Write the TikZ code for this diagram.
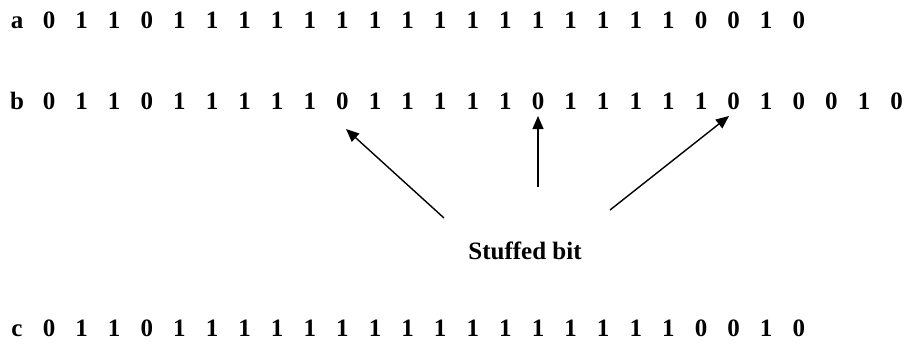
\documentclass[tikz,border=0pt]{standalone}
\usepackage{fontspec}
\setmainfont{Liberation Serif}
\usetikzlibrary{arrows.meta}
\begin{document}
\begin{tikzpicture}[x=1pt,y=-1pt,
  bit/.style={inner sep=0pt,anchor=base,font=\fontsize{25}{30}\selectfont\bfseries},
  arr/.style={line width=1.4pt,-{Triangle[length=13pt,width=11pt]}}]
\useasboundingbox (0,0) rectangle (909,345);
\node[bit] (la) at (17,29) {a};
\node[bit] (lb) at (17,109) {b};
\node[bit] (lc) at (17,336) {c};
\foreach \v [count=\i from 0] in {0,1,1,0,1,1,1,1,1,1,1,1,1,1,1,1,1,1,1,1,0,0,1,0}
  \node[bit] (a\i) at ({49+32.6*\i},29) {\v};
\foreach \v [count=\i from 0] in {0,1,1,0,1,1,1,1,1,0,1,1,1,1,1,0,1,1,1,1,1,0,1,0,0,1,0}
  \node[bit] (b\i) at ({49+32.6*\i},109) {\v};
\foreach \v [count=\i from 0] in {0,1,1,0,1,1,1,1,1,1,1,1,1,1,1,1,1,1,1,1,0,0,1,0}
  \node[bit] (c\i) at ({49+32.6*\i},336) {\v};
\node[bit] (sb) at (525,259) {Stuffed bit};
\coordinate (t1) at (444,218);
\coordinate (t2) at (538,187);
\coordinate (t3) at (610,210);
\coordinate (h1) at (346,129);
\coordinate (h2) at (538,116);
\coordinate (h3) at (729,116);
\draw[arr] (t1) -- (h1);
\draw[arr] (t2) -- (h2);
\draw[arr] (t3) -- (h3);
\end{tikzpicture}
\end{document}
